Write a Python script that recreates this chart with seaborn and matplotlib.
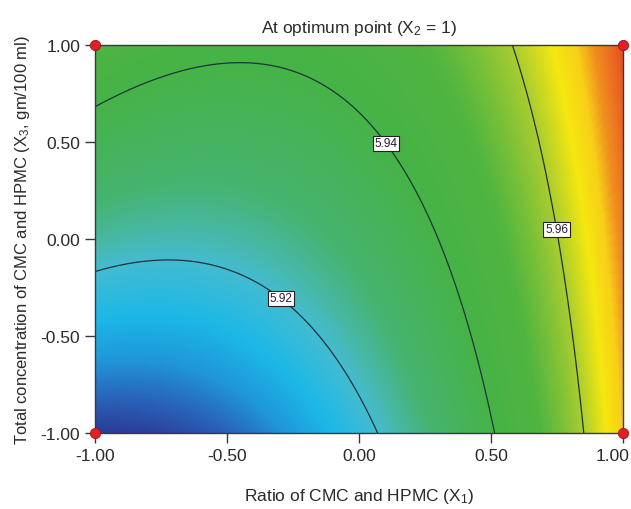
import numpy as np
import matplotlib
matplotlib.use("Agg")
import matplotlib.pyplot as plt
from matplotlib.colors import LinearSegmentedColormap
from matplotlib.transforms import ScaledTranslation
import seaborn as sns

# Quadratic response-surface model in coded units, X2 held at its optimum (+1)
term_names = ["intercept", "X1", "X3", "X1^2", "X3^2", "X1*X3"]
coefficients = [5.9309, 0.0250, 0.01375, 0.0180, 0.00035, -0.0096]

# Contour levels and where their labels sit
contour_levels = [5.92, 5.94, 5.96]
label_x1 = [-0.30, 0.09, 0.71]
label_x3 = [-0.31, 0.48, 0.04]

# Design points at the corners of the region
design_x1 = [-1.0, 1.0, -1.0, 1.0]
design_x3 = [-1.0, -1.0, 1.0, 1.0]

tick_values = [-1.0, -0.5, 0.0, 0.5, 1.0]
tick_labels = ["-1.00", "-0.50", "0.00", "0.50", "1.00"]

# Response value -> colour stops of the shading
color_values = [5.900, 5.904, 5.909, 5.914, 5.920, 5.923, 5.928, 5.940,
                5.950, 5.955, 5.960, 5.966, 5.970, 5.973, 5.979]
color_hex = ["#2a3590", "#2a5cb4", "#2096d8", "#1cb8e8", "#44bcd0",
             "#48b8a8", "#46b470", "#46b347", "#50b540", "#78c038",
             "#a8cc30", "#f5e810", "#f8d018", "#f09020", "#e84820"]

FONT = ["Liberation Sans", "DejaVu Sans"]
sns.set_theme(style="white")
plt.rcParams["font.family"] = FONT
plt.rcParams["mathtext.fontset"] = "custom"
plt.rcParams["mathtext.rm"] = "Liberation Sans"
plt.rcParams["mathtext.default"] = "regular"

vmin, vmax = color_values[0], color_values[-1]
stops = [((v - vmin) / (vmax - vmin), c) for v, c in zip(color_values, color_hex)]
cmap = LinearSegmentedColormap.from_list("response", stops)

g1 = np.linspace(-1, 1, 401)
g3 = np.linspace(-1, 1, 401)
X1, X3 = np.meshgrid(g1, g3)
b0, b1, b3, b11, b33, b13 = coefficients
Y = b0 + b1 * X1 + b3 * X3 + b11 * X1 ** 2 + b33 * X3 ** 2 + b13 * X1 * X3

fig = plt.figure(figsize=(6.31, 5.10), dpi=100)
ax = fig.add_axes([0.1513, 0.149, 0.836, 0.761])

ax.imshow(Y, extent=[-1, 1, -1, 1], origin="lower", cmap=cmap,
          vmin=vmin, vmax=vmax, aspect="auto", interpolation="bilinear")
cs = ax.contour(X1, X3, Y, levels=contour_levels, colors="#1d3438",
                linewidths=0.9)
labels = ax.clabel(cs, fmt="%.2f", manual=list(zip(label_x1, label_x3)),
                   inline=False, fontsize=8.5)
for t in labels:
    t.set_rotation(0)
    t.set_color("#2a1a30")
    t.set_family(FONT)
    t.set_bbox(dict(facecolor="white", edgecolor="#222222", pad=1.2,
                    linewidth=0.8))

sns.scatterplot(x=design_x1, y=design_x3, ax=ax, color="#e41e26",
                edgecolor="#9a1a1a", linewidth=0.6, s=55, clip_on=False,
                zorder=6, legend=False)

ax.set_xlim(-1, 1)
ax.set_ylim(-1, 1)
ax.set_xticks(tick_values)
ax.set_xticklabels(tick_labels)
ax.set_yticks(tick_values)
ax.set_yticklabels(tick_labels)
ax.tick_params(direction="out", length=7, width=1, color="#3a3448",
               labelsize=12.5, labelcolor="#2a2a2a", pad=4,
               bottom=True, left=True)
for s in ax.spines.values():
    s.set_color("#3a3448")
    s.set_linewidth(1)

# keep the rightmost x tick label inside the figure
last = ax.get_xticklabels()[-1]
last.set_horizontalalignment("right")
last.set_transform(last.get_transform() + ScaledTranslation(7 / 100, 0, fig.dpi_scale_trans))

ax.set_title("At optimum point (X$_{2}$ = 1)", fontsize=12.5, color="#2a2a2a",
             pad=9)
ax.set_xlabel("Ratio of CMC and HPMC (X$_{1}$)", fontsize=12.5,
              color="#2a2a2a", labelpad=16)
ax.set_ylabel("Total concentration of CMC and HPMC (X$_{3}$, gm/100 ml)",
              fontsize=12, color="#2a2a2a", labelpad=6)

fig.savefig("out.png", dpi=100)
